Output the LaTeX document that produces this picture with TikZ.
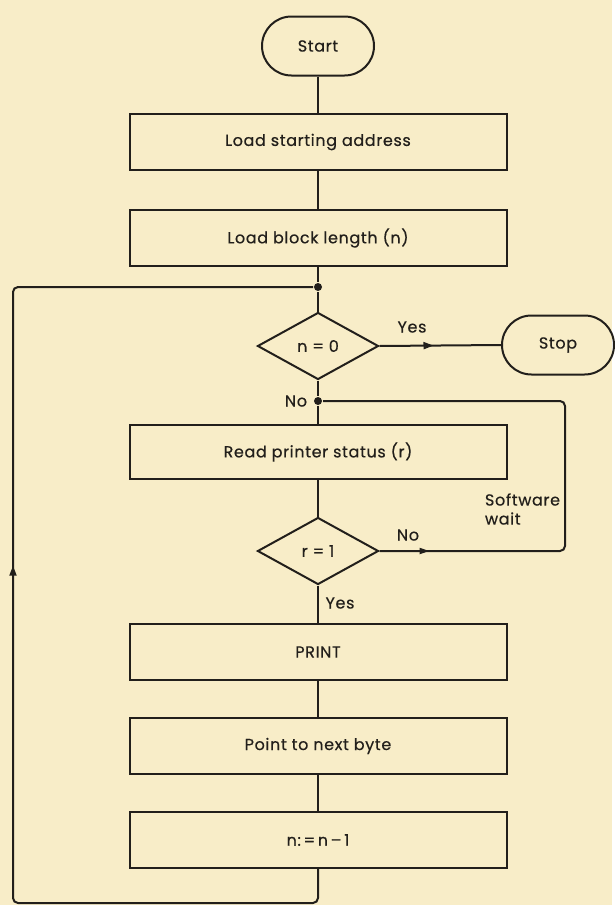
\documentclass[tikz,border=0pt]{standalone}
\usepackage{fontspec}
\setmainfont{Poppins}[FakeBold=0.5, LetterSpace=4]
\usepackage{xcolor}
\definecolor{paper}{RGB}{248,237,200}
\definecolor{ink}{RGB}{34,31,27}
\usetikzlibrary{arrows.meta, shapes.geometric, shapes.misc, decorations.markings}

\begin{document}
\begin{tikzpicture}[x=1pt, y=-1pt, font=\fontsize{16}{19}\selectfont, line width=2pt, text=ink,
  procbox/.style={draw=ink, minimum width=377pt, minimum height=56pt, inner sep=0pt},
  termbox/.style={draw=ink, rounded rectangle, minimum width=112pt, minimum height=59pt, inner sep=0pt},
  decbox/.style={draw=ink, diamond, minimum width=121pt, minimum height=67pt, inner sep=0pt},
  jdot/.style={circle, fill=ink, minimum size=8pt, inner sep=0pt},
  conn/.style={draw=ink, rounded corners=5pt},
  midarr/.style 2 args={postaction={decorate}, decoration={markings,
      mark=at position #1 with {\arrow{#2}}}}]
  \fill[paper] (0,0) rectangle (612,905);

  % main column
  \node[termbox] (start) at (318,46) {Start};
  \node[procbox] (load1) at (318,142) {Load starting address};
  \node[procbox] (load2) at (318,238) {Load block length (n)};
  \node[jdot] (j1) at (318,287) {};
  \node[decbox] (test1) at (318,346) {n = 0};
  \node[termbox] (stop) at (558,345) {Stop};
  \node[jdot] (j2) at (318,401) {};
  \node[procbox, minimum height=54pt] (read) at (318,452) {Read printer status (r)};
  \node[decbox] (test2) at (318,551) {r = 1};
  \node[procbox] (print) at (318,652) {PRINT};
  \node[procbox] (next) at (318,746) {Point to next byte};
  \node[procbox] (dec) at (318,840) {n:\,=\,n\,--\,1};
  \coordinate (waitc) at (565,551);
  \coordinate (loopc) at (13,903);

  % labels
  \node (yes1) at (412,327) {Yes};
  \node (no1) at (296,401) {No};
  \node[anchor=west, align=left, inner sep=0pt] (wait) at (484,509) {Software\\wait};
  \node (no2) at (408,535) {No};
  \node (yes2) at (340,603) {Yes};

  % connectors
  \draw[conn] (start) -- (load1);
  \draw[conn] (load1) -- (load2);
  \draw[conn] (load2) -- (j1);
  \draw[conn] (j1) -- (test1);
  \draw[conn, midarr={54pt}{Triangle[open, length=10pt, width=7pt]}] (test1.east) -- (stop.west);
  \draw[conn] (test1) -- (j2);
  \draw[conn] (j2) -- (read);
  \draw[conn] (read) -- (test2);
  \draw[conn, midarr={50pt}{Triangle[length=10pt, width=6pt]}] (test2.east) -- (waitc) |- (j2);
  \draw[conn] (test2) -- (print);
  \draw[conn] (print) -- (next);
  \draw[conn] (next) -- (dec);
  \draw[conn, midarr={672pt}{Triangle[open, length=10pt, width=7pt]}] (dec.south) |- (loopc) |- (j1);
\end{tikzpicture}
\end{document}
